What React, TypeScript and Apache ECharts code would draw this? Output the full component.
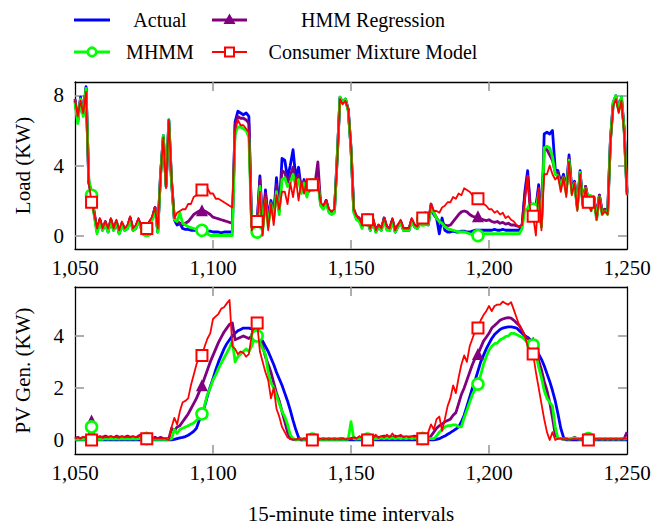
import React, { useEffect, useRef } from "react";
import * as echarts from "echarts";

const X_START = 1050;
const X_TICKS = [1050, 1100, 1150, 1200, 1250];
const LOAD_TICKS = [0, 4, 8];
const PV_TICKS = [0, 2, 4];
const MARK_PHASE = 1056;
const MARK_EVERY = 20;

const SERIES_NAMES = ["Actual", "HMM Regression", "MHMM", "Consumer Mixture Model"];

const LOAD_ACTUAL = [
  7.8, 6.5, 7.9, 6.9, 8.5, 3.0, 2.3, 1.2, 0.2, 0.9,
  0.3, 0.7, 0.2, 0.9, 0.3, 0.8, 0.1, 0.6, 0.3, 0.4,
  1.0, 0.3, 0.4, 0.9, 0.4, 0.4, 0.3, 0.7, 1.0, 1.6,
  0.2, 3.5, 5.7, 2.8, 6.6, 3.0, 0.9, 0.6, 0.7, 0.4,
  0.35, 0.35, 0.3, 0.3, 0.3, 0.3, 0.3, 0.3, 0.25, 0.25,
  0.2, 0.2, 0.2, 0.15, 0.2, 0.2, 0.2, 0.2, 6.5, 7.1,
  7.0, 6.9, 7.0, 6.8, 0.6, 0.3, 0.7, 3.4, 0.5, 2.6,
  1.0, 2.0, 1.2, 3.3, 1.4, 4.4, 4.3, 3.3, 4.0, 4.9,
  3.3, 3.9, 2.6, 3.2, 2.4, 3.0, 2.9, 3.0, 3.2, 1.8,
  1.6, 2.0, 1.4, 1.3, 1.4, 4.5, 7.9, 7.6, 7.8, 7.2,
  5.0, 1.4, 1.0, 0.9, 0.5, 1.0, 0.8, 0.3, 0.9, 0.2,
  0.5, 0.3, 1.0, 0.4, 0.3, 0.9, 0.2, 0.5, 0.8, 0.3,
  0.3, 0.3, 0.9, 0.5, 0.4, 0.7, 0.9, 1.2, 0.6, 1.7,
  1.2, 1.0, 0.1, 1.0, 0.3, 0.2, 0.2, 0.25, 0.2, 0.2,
  0.25, 0.25, 0.2, 0.2, 0.25, 0.3, 0.3, 0.3, 0.3, 0.3,
  0.3, 0.3, 0.35, 0.3, 0.3, 0.35, 0.3, 0.3, 0.3, 0.3,
  0.3, 0.3, 0.6, 2.5, 3.7, 1.6, 1.8, 1.6, 2.9, 0.5,
  5.8, 5.9, 5.8, 6.0, 3.8, 3.7, 3.0, 3.5, 2.6, 4.6,
  2.6, 3.1, 1.6, 3.7, 1.8, 2.8, 2.0, 1.5, 2.2, 1.0,
  2.3, 1.3, 1.5, 1.3, 5.5, 7.6, 8.0, 7.2, 7.9, 6.0,
  2.4,
];

const LOAD_HMM = [
  7.7, 6.6, 7.8, 7.0, 8.4, 3.1, 2.4, 1.3, 0.3, 0.9,
  0.4, 0.8, 0.3, 0.9, 0.4, 0.8, 0.2, 0.7, 0.4, 0.5,
  1.0, 0.4, 0.5, 0.9, 0.5, 0.5, 0.4, 0.8, 1.0, 1.6,
  0.3, 3.5, 5.6, 2.9, 6.5, 3.1, 1.0, 0.8, 0.7, 0.6,
  0.7, 0.8, 1.0, 1.2, 1.3, 1.4, 1.45, 1.4, 1.3, 1.2,
  1.05, 1.0, 0.95, 0.9, 0.85, 0.8, 0.75, 0.7, 6.3, 6.8,
  6.7, 6.7, 6.6, 6.4, 0.6, 0.4, 0.7, 3.2, 0.5, 2.4,
  0.8, 1.9, 1.1, 2.9, 1.4, 3.7, 3.6, 3.0, 3.4, 3.9,
  3.1, 3.5, 2.5, 3.1, 2.3, 2.9, 2.9, 3.0, 4.2, 1.8,
  1.6, 2.0, 1.4, 1.3, 1.4, 4.4, 7.8, 7.6, 7.7, 7.2,
  5.0, 1.5, 1.1, 1.0, 0.6, 1.0, 0.9, 0.4, 0.9, 0.3,
  0.6, 0.4, 1.0, 0.5, 0.4, 0.9, 0.3, 0.6, 0.8, 0.4,
  0.4, 0.4, 0.9, 0.6, 0.5, 0.8, 0.9, 1.3, 0.7, 1.8,
  1.3, 1.0, 0.8, 0.7, 0.6, 0.55, 0.6, 0.8, 1.0, 1.2,
  1.35, 1.4, 1.35, 1.2, 1.1, 1.05, 1.1, 0.95, 0.9, 0.85,
  0.9, 0.8, 0.75, 0.8, 0.7, 0.75, 0.65, 0.7, 0.6, 0.6,
  0.55, 0.5, 0.6, 2.3, 3.4, 1.5, 1.4, 1.5, 2.7, 0.6,
  5.0, 4.9, 4.6, 4.3, 3.6, 3.6, 2.9, 3.4, 2.6, 4.4,
  2.6, 3.0, 1.7, 3.6, 1.9, 2.8, 2.0, 1.6, 2.2, 1.1,
  2.3, 1.4, 1.5, 1.4, 5.4, 7.5, 7.9, 7.2, 7.8, 6.0,
  2.5,
];

const LOAD_MHMM = [
  7.6, 6.4, 7.8, 6.8, 8.4, 3.2, 2.3, 1.1, 0.1, 0.8,
  0.3, 0.7, 0.2, 0.8, 0.3, 0.8, 0.1, 0.6, 0.3, 0.4,
  0.9, 0.3, 0.4, 0.8, 0.4, 0.4, 0.3, 0.7, 0.9, 1.5,
  0.2, 3.4, 5.7, 2.8, 6.6, 3.0, 0.9, 0.8, 1.3, 0.7,
  0.6, 0.5, 0.45, 0.4, 0.35, 0.3, 0.3, 0.2, 0.1, 0.0,
  0.0, 0.0, 0.0, 0.0, 0.0, 0.0, 0.0, 0.0, 5.8, 6.2,
  6.2, 6.1, 6.0, 5.6, 0.5, 0.2, 0.2, 2.8, 0.3, 2.0,
  0.5, 1.8, 1.0, 2.5, 1.2, 3.2, 3.3, 2.8, 3.0, 3.5,
  2.8, 3.2, 2.4, 3.0, 2.2, 2.9, 2.9, 3.0, 3.1, 1.7,
  1.5, 1.9, 1.3, 1.2, 1.3, 4.4, 7.9, 7.6, 7.8, 7.1,
  5.0, 1.3, 0.9, 0.8, 0.4, 0.9, 0.9, 0.3, 0.8, 0.2,
  0.5, 0.3, 0.9, 0.3, 0.3, 0.8, 0.2, 0.5, 0.7, 0.3,
  0.3, 0.3, 0.8, 0.5, 0.4, 0.7, 0.9, 1.2, 0.6, 1.7,
  1.3, 1.0, 0.8, 0.7, 0.5, 0.4, 0.35, 0.3, 0.25, 0.2,
  0.2, 0.2, 0.15, 0.1, 0.05, 0.0, 0.0, 0.05, 0.1, 0.1,
  0.1, 0.1, 0.1, 0.1, 0.1, 0.1, 0.1, 0.1, 0.1, 0.1,
  0.1, 0.1, 0.4, 1.5, 1.5, 1.5, 1.5, 1.4, 2.4, 0.5,
  5.0, 5.1, 5.0, 4.5, 3.5, 3.4, 2.8, 3.3, 2.4, 4.3,
  2.4, 3.0, 1.5, 3.6, 1.7, 2.7, 2.0, 1.4, 2.1, 0.9,
  2.2, 1.2, 1.4, 1.2, 5.4, 7.6, 8.0, 7.1, 7.9, 5.9,
  2.3,
];

const LOAD_CMM = [
  7.8, 6.8, 7.7, 7.0, 8.2, 3.0, 1.9, 1.2, 0.4, 1.0,
  0.4, 0.8, 0.4, 1.0, 0.4, 0.9, 0.3, 0.8, 0.4, 0.6,
  1.1, 0.4, 0.6, 1.0, 0.5, 0.5, 0.4, 0.8, 1.1, 1.6,
  0.4, 3.4, 5.6, 2.7, 6.6, 3.2, 1.0, 1.3, 1.4, 1.5,
  1.5, 1.8, 1.8, 2.2, 2.3, 2.6, 2.6, 2.5, 2.7, 2.4,
  2.4, 2.1, 2.1, 2.0, 1.9, 1.8, 1.7, 1.6, 6.0, 6.6,
  6.3, 6.3, 6.1, 5.9, 0.3, 0.8, 0.8, 2.5, 0.0, 2.2,
  0.3, 1.8, 0.6, 2.3, 1.5, 2.5, 2.5, 1.8, 3.0, 2.2,
  3.3, 2.0, 3.1, 2.4, 3.1, 2.5, 2.9, 2.9, 3.0, 1.9,
  1.7, 2.0, 1.5, 1.4, 1.5, 4.3, 7.8, 7.5, 7.7, 7.2,
  5.1, 1.5, 1.1, 1.0, 0.6, 1.1, 0.9, 0.4, 1.0, 0.3,
  0.6, 0.4, 1.0, 0.5, 0.4, 1.0, 0.3, 0.6, 0.9, 0.4,
  0.4, 0.4, 1.0, 0.6, 0.5, 0.8, 1.0, 1.3, 0.8, 1.8,
  1.4, 1.4, 1.3, 1.6, 1.7, 1.9, 1.9, 2.2, 2.1, 2.4,
  2.3, 2.7, 2.6, 2.5, 2.3, 2.2, 2.1, 2.0, 1.8, 1.7,
  1.5, 1.5, 1.3, 1.4, 1.2, 1.3, 1.0, 1.1, 0.9, 0.8,
  0.6, 0.5, 0.6, 2.0, 3.4, 1.3, 1.1, 0.0, 2.7, 0.3,
  3.5, 3.5, 4.0, 3.5, 3.2, 3.4, 2.5, 3.3, 2.2, 4.2,
  2.3, 3.0, 1.4, 3.5, 1.6, 2.7, 1.9, 1.4, 2.1, 0.9,
  2.2, 1.2, 1.4, 1.2, 5.3, 7.4, 7.8, 7.0, 7.7, 5.8,
  2.3,
];

const PV_ACTUAL = [
  0, 0, 0, 0, 0, 0, 0, 0, 0, 0,
  0, 0, 0, 0, 0, 0, 0, 0, 0, 0,
  0, 0, 0, 0, 0, 0, 0, 0, 0, 0,
  0, 0, 0, 0, 0, 0, 0.02, 0.05, 0.08, 0.1,
  0.13, 0.18, 0.25, 0.33, 0.45, 0.75, 1.0, 1.3, 1.7, 2.05,
  2.35, 2.7, 3.0, 3.25, 3.5, 3.7, 3.85, 4.0, 4.1, 4.2,
  4.25, 4.3, 4.3, 4.3, 4.27, 4.2, 4.1, 3.95, 3.8, 3.6,
  3.4, 3.15, 2.9, 2.6, 2.35, 2.1, 1.8, 1.5, 1.15, 0.75,
  0.4, 0.1, 0, 0, 0, 0, 0, 0, 0, 0,
  0, 0, 0, 0, 0, 0, 0, 0, 0, 0,
  0, 0, 0, 0, 0, 0, 0, 0, 0, 0,
  0, 0, 0, 0, 0, 0, 0, 0, 0, 0,
  0, 0, 0, 0, 0, 0, 0, 0, 0, 0,
  0, 0.02, 0.05, 0.1, 0.15, 0.22, 0.28, 0.35, 0.42, 0.5,
  0.7, 0.95, 1.3, 1.65, 2.0, 2.3, 2.65, 3.0, 3.25, 3.5,
  3.7, 3.9, 4.05, 4.15, 4.25, 4.3, 4.33, 4.35, 4.35, 4.33,
  4.3, 4.2, 4.1, 4.0, 3.95, 3.85, 3.65, 3.5, 3.3, 3.1,
  2.85, 2.55, 2.25, 1.9, 1.5, 1.0, 0.45, 0.1, 0, 0,
  0, 0, 0, 0, 0, 0, 0, 0, 0, 0,
  0, 0, 0, 0, 0, 0, 0, 0, 0, 0,
  0,
];

const PV_HMM = [
  0.05, 0.1, 0.05, 0.1, 0.05, 0.1, 0.75, 0.1, 0.05, 0.12,
  0.1, 0.15, 0.1, 0.12, 0.08, 0.15, 0.1, 0.12, 0.1, 0.15,
  0.1, 0.12, 0.08, 0.15, 0.2, 0.1, 0.1, 0.05, 0.05, 0.1,
  0.05, 0.1, 0.05, 0.05, 0.05, 0.45, 0.35, 0.5, 0.55, 0.7,
  0.85, 1.0, 1.2, 1.4, 1.6, 1.85, 2.1, 2.4, 2.7, 3.0,
  3.25, 3.5, 3.75, 3.95, 4.15, 4.3, 4.45, 4.5, 3.85, 3.9,
  3.95, 4.0, 3.95, 3.9, 4.0, 4.5, 4.5, 3.9, 3.6, 3.2,
  2.9, 2.6, 2.2, 1.8, 1.5, 1.1, 0.7, 0.3, 0.05, 0.02,
  0, 0.02, 0, 0.05, 0.02, 0.05, 0.02, 0.15, 0.05, 0.02,
  0.05, 0.02, 0.05, 0.02, 0.05, 0.02, 0.05, 0.05, 0.02, 0.05,
  0.05, 0.1, 0.05, 0.08, 0.05, 0.1, 0.05, 0.1, 0.12, 0.08,
  0.1, 0.12, 0.15, 0.1, 0.12, 0.1, 0.15, 0.12, 0.1, 0.12,
  0.1, 0.12, 0.1, 0.15, 0.1, 0.08, 0.1, 0.1, 0.05, 0.15,
  0.3, 0.45, 0.55, 0.6, 0.7, 0.75, 0.8, 0.95, 1.05, 1.4,
  1.75, 2.0, 2.3, 2.6, 2.9, 3.15, 3.3, 3.55, 3.8, 3.95,
  4.1, 4.3, 4.4, 4.5, 4.6, 4.65, 4.68, 4.7, 4.68, 4.6,
  4.5, 4.4, 4.2, 4.0, 3.9, 3.85, 3.75, 3.4, 3.05, 2.7,
  2.25, 1.9, 1.45, 0.85, 0.2, 0.05, 0.05, 0.02, 0.05, 0.02,
  0.05, 0.1, 0.05, 0.02, 0.08, 0.02, 0.05, 0.02, 0.05, 0.02,
  0.05, 0.02, 0.05, 0.02, 0.05, 0.02, 0.05, 0.02, 0.05, 0.05,
  0.3,
];

const PV_MHMM = [
  0.02, 0.03, 0.02, 0.03, 0.02, 0.03, 0.5, 0.03, 0.02, 0.03,
  0.02, 0.05, 0.03, 0.05, 0.03, 0.05, 0.03, 0.05, 0.03, 0.05,
  0.03, 0.05, 0.03, 0.05, 0.05, 0.03, 0.05, 0.05, 0.03, 0.02,
  0.02, 0.02, 0.02, 0.02, 0.02, 0.05, 0.4, 0.25, 0.4, 0.45,
  0.5, 0.55, 0.6, 0.65, 0.75, 0.85, 1.0, 1.35, 1.75, 2.0,
  2.3, 2.5, 2.75, 2.95, 3.15, 3.35, 3.55, 3.8, 3.0, 3.2,
  3.3, 3.4, 3.5, 3.4, 3.6, 3.9, 4.0, 3.75, 3.5, 3.3,
  2.6, 2.2, 2.0, 1.7, 1.4, 1.1, 0.9, 0.6, 0.2, 0.05,
  0.02, 0.02, 0.05, 0.02, 0.05, 0.02, 0.03, 0.02, 0.05, 0.02,
  0.02, 0.03, 0.02, 0.03, 0.02, 0.03, 0.02, 0.03, 0.02, 0.03,
  0.7, 0.05, 0.03, 0.05, 0.03, 0.05, 0.03, 0.05, 0.03, 0.05,
  0.05, 0.08, 0.05, 0.08, 0.05, 0.08, 0.05, 0.08, 0.05, 0.08,
  0.05, 0.08, 0.05, 0.08, 0.05, 0.05, 0.05, 0.05, 0.05, 0.05,
  0.05, 0.15, 0.3, 0.4, 0.5, 0.55, 0.55, 0.58, 0.58, 0.5,
  0.5, 0.85, 1.15, 1.45, 1.75, 1.95, 2.15, 2.5, 2.9, 3.2,
  3.45, 3.6, 3.7, 3.72, 3.85, 3.9, 3.97, 4.0, 4.1, 4.1,
  4.05, 4.0, 3.95, 3.85, 3.75, 3.7, 3.65, 3.3, 2.8, 2.4,
  1.9, 1.6, 1.45, 1.3, 0.5, 0.05, 0.05, 0.03, 0.05, 0.03,
  0.05, 0.08, 0.05, 0.03, 0.05, 0.08, 0.05, 0.03, 0.05, 0.03,
  0.05, 0.03, 0.05, 0.03, 0.05, 0.03, 0.05, 0.03, 0.05, 0.03,
  0.05,
];

const PV_CMM = [
  0.05, 0.1, 0.05, 0.12, 0.08, 0.1, 0.0, 0.12, 0.1, 0.15,
  0.08, 0.12, 0.1, 0.15, 0.1, 0.12, 0.08, 0.15, 0.1, 0.12,
  0.1, 0.15, 0.1, 0.12, 0.2, 0.05, 0.05, 0.05, 0.05, 0.05,
  0.05, 0.05, 0.05, 0.05, 0.0, 0.5, 0.85, 0.6, 1.1, 1.45,
  1.5, 1.6, 2.1, 2.5, 2.9, 3.2, 3.25, 3.6, 3.9, 4.1,
  4.65, 4.75, 4.85, 5.05, 5.1, 5.25, 5.38, 3.6, 3.5, 3.3,
  3.4, 3.35, 3.2, 3.3, 4.0, 4.6, 4.5, 3.4, 3.0, 2.6,
  2.3, 1.6, 2.0, 1.2, 0.9, 0.5, 0.3, 0.1, 0.05, 0.02,
  0.02, 0.05, 0.02, 0.05, 0.02, 0.05, 0.0, 0.05, 0.02, 0.05,
  0.02, 0.05, 0.02, 0.05, 0.02, 0.05, 0.02, 0.05, 0.02, 0.05,
  0.05, 0.1, 0.05, 0.15, 0.08, 0.12, 0.0, 0.15, 0.1, 0.2,
  0.08, 0.15, 0.1, 0.2, 0.1, 0.25, 0.1, 0.15, 0.2, 0.1,
  0.15, 0.1, 0.15, 0.12, 0.15, 0.1, 0.05, 0.05, 0.3, 0.6,
  0.4, 0.8, 0.9, 0.35, 0.8, 1.3, 1.6, 2.1, 1.8, 2.4,
  2.9, 3.25, 3.0, 3.6, 3.9, 4.2, 4.3, 4.6, 4.8, 4.95,
  5.15, 4.95, 5.15, 5.2, 5.2, 5.32, 5.25, 5.2, 5.3, 5.0,
  4.7, 4.4, 4.2, 4.0, 3.6, 3.35, 3.3, 2.6, 2.0, 1.4,
  0.8, 0.3, 0.0, 0.3, 0.0, 0.05, 0.05, 0.02, 0.05, 0.02,
  0.02, 0.05, 0.02, 0.05, 0.02, 0.05, 0.0, 0.05, 0.02, 0.05,
  0.02, 0.05, 0.02, 0.05, 0.02, 0.05, 0.02, 0.05, 0.02, 0.05,
  0.05,
];

const FONT = "'Liberation Serif', 'DejaVu Serif', serif";
const BLUE = "#0000ff";
const PURPLE = "#800080";
const GREEN = "#00ff00";
const RED = "#ff0000";

const GRID_LEFT = 75;
const GRID_WIDTH = 552;
const GRID_HEIGHT = 167;
const GRID_TOPS = [82, 287];

function makeData(values: number[], marked: boolean) {
  return values.map((v, i) => {
    const x = X_START + i;
    const isMark = marked && x >= MARK_PHASE && (x - MARK_PHASE) % MARK_EVERY === 0;
    return isMark ? { value: [x, v] } : { value: [x, v], symbol: "none" };
  });
}

type Style = {
  color: string;
  width: number;
  symbol: string;
  symbolSize: number;
  fill: string;
  borderWidth: number;
  marked: boolean;
};

const STYLES: Style[] = [
  { color: BLUE, width: 2.8, symbol: "none", symbolSize: 0, fill: BLUE, borderWidth: 0, marked: false },
  { color: PURPLE, width: 2.8, symbol: "triangle", symbolSize: 12, fill: PURPLE, borderWidth: 0, marked: true },
  { color: GREEN, width: 2.8, symbol: "circle", symbolSize: 11, fill: "#ffffff", borderWidth: 2.6, marked: true },
  { color: RED, width: 1.8, symbol: "rect", symbolSize: 11, fill: "#ffffff", borderWidth: 2, marked: true },
];

function buildSeries(values: number[][], axisIndex: number) {
  return values.map((vals, k) => {
    const s = STYLES[k];
    return {
      type: "line",
      name: SERIES_NAMES[k],
      xAxisIndex: axisIndex,
      yAxisIndex: axisIndex,
      data: makeData(vals, s.marked),
      symbol: s.symbol,
      symbolSize: s.symbolSize,
      showSymbol: s.marked,
      showAllSymbol: true,
      lineStyle: { color: s.color, width: s.width, join: "round" },
      itemStyle: { color: s.fill, borderColor: s.color, borderWidth: s.borderWidth },
      emphasis: { disabled: true },
      z: 2 + k,
    };
  });
}

const TICK_STYLE = { color: "#9a9a9a", width: 1.6 };
const LINE_STYLE = { color: "#000", width: 1.3 };

function xAxes(gridIndex: number, withName: boolean) {
  const base = {
    type: "value",
    gridIndex,
    min: X_START,
    max: 1250,
    splitLine: { show: false },
    axisLine: { show: true, onZero: false, lineStyle: LINE_STYLE },
    axisTick: { show: true, inside: true, length: 9, lineStyle: TICK_STYLE, customValues: [1100, 1150, 1200] },
  };
  return [
    {
      ...base,
      position: "bottom",
      axisLabel: {
        show: true,
        customValues: X_TICKS,
        formatter: (v: number) => v.toLocaleString("en-US"),
        color: "#000",
        fontFamily: FONT,
        fontSize: 21,
        margin: 8,
      },
      name: withName ? "15-minute time intervals" : "",
      nameLocation: "middle",
      nameGap: 49,
      nameTextStyle: { color: "#000", fontFamily: FONT, fontSize: 21 },
    },
    { ...base, position: "top", axisLabel: { show: false } },
  ];
}

function yAxes(gridIndex: number, min: number, max: number, ticks: number[], name: string) {
  const base = {
    type: "value",
    gridIndex,
    min,
    max,
    splitLine: { show: false },
    axisLine: { show: true, onZero: false, lineStyle: LINE_STYLE },
    axisTick: { show: true, inside: true, length: 9, lineStyle: TICK_STYLE, customValues: ticks },
  };
  return [
    {
      ...base,
      position: "left",
      axisLabel: {
        show: true,
        customValues: ticks,
        color: "#000",
        fontFamily: FONT,
        fontSize: 21,
        margin: 11,
      },
      name,
      nameLocation: "middle",
      nameRotate: 90,
      nameGap: 42,
      nameTextStyle: { color: "#000", fontFamily: FONT, fontSize: 21 },
    },
    { ...base, position: "right", axisLabel: { show: false } },
  ];
}

function legendGraphics() {
  const rows = [20, 52];
  const cols = [
    { x0: 74, x1: 110, textX: 160 },
    { x0: 212, x1: 247, textX: 373 },
  ];
  const order = [0, 1, 2, 3];
  const els: any[] = [];
  order.forEach((k) => {
    const r = Math.floor(k / 2);
    const c = k % 2;
    const s = STYLES[k];
    const y = rows[r];
    const { x0, x1, textX } = cols[c];
    const cx = (x0 + x1) / 2;
    els.push({
      type: "line",
      shape: { x1: x0, y1: y, x2: x1, y2: y },
      style: { stroke: s.color, lineWidth: s.width },
    });
    if (s.symbol === "circle") {
      els.push({ type: "circle", shape: { cx, cy: y, r: 4.3 }, style: { fill: "#fff", stroke: s.color, lineWidth: 2.6 } });
    } else if (s.symbol === "rect") {
      els.push({ type: "rect", shape: { x: cx - 4.5, y: y - 4.5, width: 9, height: 9 }, style: { fill: "#fff", stroke: s.color, lineWidth: 2 } });
    } else if (s.symbol === "triangle") {
      els.push({ type: "polygon", shape: { points: [[cx, y - 6.5], [cx - 6, y + 4], [cx + 6, y + 4]] }, style: { fill: s.color } });
    }
    els.push({
      type: "text",
      x: textX,
      y,
      style: {
        text: SERIES_NAMES[k],
        fill: "#000",
        font: `20px ${FONT}`,
        align: "center",
        verticalAlign: "middle",
      },
    });
  });
  return els;
}

export default function App() {
  const ref = useRef<HTMLDivElement>(null);
  useEffect(() => {
    if (!ref.current) return;
    const chart = echarts.init(ref.current, null, { renderer: "svg" });
    const option: any = {
      animation: false,
      backgroundColor: "#ffffff",
      textStyle: { fontFamily: FONT },
      grid: GRID_TOPS.map((top) => ({ left: GRID_LEFT, top, width: GRID_WIDTH, height: GRID_HEIGHT })),
      xAxis: [...xAxes(0, false), ...xAxes(1, true)],
      yAxis: [
        ...yAxes(0, -0.77, 8.77, LOAD_TICKS, "Load (KW)"),
        ...yAxes(1, -0.54, 5.88, PV_TICKS, "PV Gen. (KW)"),
      ],
      series: [
        ...buildSeries([LOAD_ACTUAL, LOAD_HMM, LOAD_MHMM, LOAD_CMM], 0).map((s) => ({ ...s, xAxisIndex: 0, yAxisIndex: 0 })),
        ...buildSeries([PV_ACTUAL, PV_HMM, PV_MHMM, PV_CMM], 2).map((s) => ({ ...s, xAxisIndex: 2, yAxisIndex: 2 })),
      ],
      graphic: legendGraphics(),
    };
    chart.setOption(option);
    return () => chart.dispose();
  }, []);
  return (
    <div
      ref={ref}
      style={{ position: "fixed", left: 0, top: 0, width: 659, height: 529, background: "#fff" }}
    />
  );
}
